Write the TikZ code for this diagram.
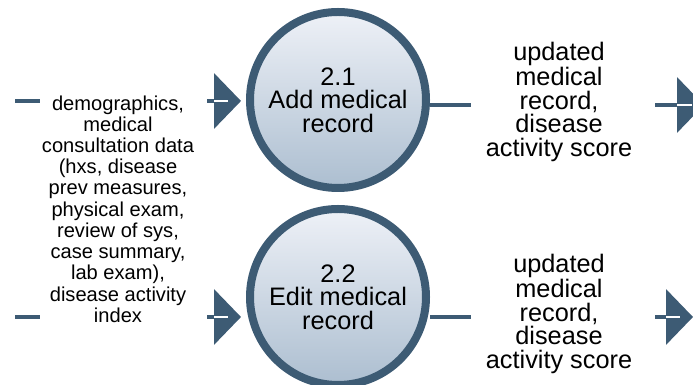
\documentclass[tikz,border=0pt]{standalone}
\usepackage{fontspec}
\setmainfont{Liberation Sans}
\usetikzlibrary{arrows.meta}

\definecolor{dfdblue}{RGB}{61,91,116}
\definecolor{dfdtop}{RGB}{238,241,247}
\definecolor{dfdbottom}{RGB}{172,190,208}

\begin{document}
\begin{tikzpicture}
	[process/.style={circle, draw=dfdblue, line width=0.2cm, minimum size=4.4cm, inner sep=0pt, top color=dfdtop, bottom color=dfdbottom, align=center, font=\fontsize{18}{16.7}\selectfont},
	 flowtext/.style={align=center, inner sep=0pt, font=\fontsize{18}{16.7}\selectfont},
	 flowline/.style={draw=dfdblue, line width=0.1cm},
	 flow/.style={draw=dfdblue, line width=0.1cm, -{Triangle[length=0.675cm,width=1.375cm]}},
	 stripe/.style={draw=white, line width=0.05cm}]

	\useasboundingbox (0,0) rectangle (17.325,9.625);

	%Processes
	\node[process] (p1) at (8.45,7.125) {2.1\\Add medical\\record};
	\node[process] (p2) at (8.45,2.2) {2.2\\Edit medical\\record};

	%Incoming flow
	\coordinate (d1) at (0.375,7.1);
	\coordinate (d1e) at (1,7.1);
	\coordinate (d2) at (0.375,1.7);
	\coordinate (d2e) at (1,1.7);
	\draw[flowline] (d1) -- (d1e);
	\draw[flowline] (d2) -- (d2e);
	\node[flowtext, font=\fontsize{14.3}{15.1}\selectfont] (fin) at (2.95,4.4) {demographics,\\medical\\consultation data\\(hxs, disease\\prev measures,\\physical exam,\\review of sys,\\case summary,\\lab exam),\\disease activity\\index};

	\coordinate (in1) at (5.175,7.1);
	\coordinate (in2) at (5.175,1.7);
	\draw[flow, shorten >=0.125cm] (in1) -- (in1 -| p1.west);
	\draw[stripe, shorten <=0.175cm, shorten >=0.45cm] (in1) -- (in1 -| p1.west);
	\draw[flow, shorten >=0.125cm] (in2) -- (in2 -| p2.west);
	\draw[stripe, shorten <=0.175cm, shorten >=0.45cm] (in2) -- (in2 -| p2.west);

	%Outgoing flows
	\coordinate (o1) at (11.775,7.0);
	\coordinate (o2) at (11.775,1.7);
	\draw[flowline] (o1 -| p1.east) -- (o1);
	\draw[flowline] (o2 -| p2.east) -- (o2);
	\node[flowtext] (fout1) at (13.975,7.075) {updated\\medical\\record,\\disease\\activity score};
	\node[flowtext] (fout2) at (13.975,1.775) {updated\\medical\\record,\\disease\\activity score};

	\coordinate (s1) at (16.375,7.0);
	\coordinate (t1) at (17.6,7.0);
	\coordinate (s2) at (16.375,1.7);
	\coordinate (t2) at (17.325,1.7);
	\draw[flow] (s1) -- (t1);
	\draw[stripe, shorten <=0.55cm, shorten >=0.3cm] (s1) -- (t1);
	\draw[flow] (s2) -- (t2);
	\draw[stripe, shorten <=0.275cm, shorten >=0.325cm] (s2) -- (t2);
\end{tikzpicture}
\end{document}
